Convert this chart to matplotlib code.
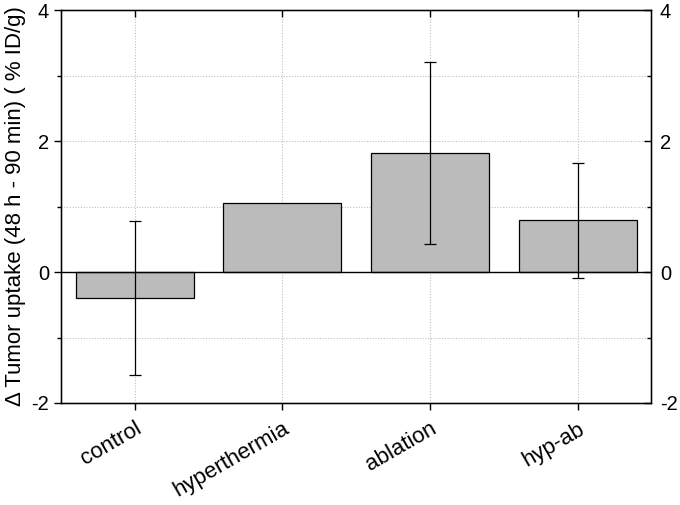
import matplotlib
matplotlib.use("Agg")
import matplotlib.pyplot as plt
import matplotlib.transforms as mtransforms
import numpy as np

categories = ["control", "hyperthermia", "ablation", "hyp-ab"]
values = [-0.40, 1.05, 1.82, 0.79]
errors = [1.18, 0.0, 1.39, 0.88]
y_major = [-2, 0, 2, 4]
y_minor = [-1, 1, 3]
ylabel = "\u0394 Tumor uptake (48 h - 90 min) ( % ID/g)"

plt.rcParams['font.family'] = ['Liberation Sans', 'DejaVu Sans']
plt.rcParams['axes.unicode_minus'] = False

fig = plt.figure(figsize=(6.8, 5.05), dpi=100)
ax = fig.add_axes([0.0897, 0.202, 0.958 - 0.0897, 0.980 - 0.202])

x = np.arange(len(categories))
ax.set_xlim(-0.5, len(categories) - 0.5)
ax.set_ylim(-2, 4)

ax.set_axisbelow(True)
grid_kw = dict(color='#c0c0c0', linestyle=(0, (1, 1.5)), linewidth=0.8, zorder=0)
for yv in y_major + y_minor:
    if yv not in (-2, 0, 4):
        ax.axhline(yv, **grid_kw)
for xv in x:
    ax.axvline(xv, **grid_kw)

ax.bar(x, values, width=0.8, color='#bbbbbb', edgecolor='black', linewidth=0.9, zorder=2)
ax.axhline(0, color='black', linewidth=1.0, zorder=3)
for xi, v, e in zip(x, values, errors):
    if e > 0:
        ax.errorbar(xi, v, yerr=e, fmt='none', ecolor='black', elinewidth=0.9,
                    capsize=4, capthick=0.9, zorder=4)

ax.set_xticks(x)
ax.set_xticklabels(categories, rotation=30, ha='right', rotation_mode='anchor', fontsize=16)
offset = mtransforms.ScaledTranslation(4 / 100, 0, fig.dpi_scale_trans)
for lab in ax.get_xticklabels():
    lab.set_transform(lab.get_transform() + offset)
ax.set_yticks(y_major)
ax.set_yticks(y_minor, minor=True)
ax.tick_params(axis='y', which='major', direction='out', length=5, width=1, labelsize=14.5)
ax.tick_params(axis='y', which='minor', direction='out', length=3, width=1)
ax.tick_params(axis='x', which='major', direction='out', length=5, width=1, pad=6)
ax.set_ylabel(ylabel, fontsize=16, labelpad=4)
for s in ax.spines.values():
    s.set_linewidth(1.0)

ax2 = ax.twinx()
ax2.set_ylim(-2, 4)
ax2.set_yticks(y_major)
ax2.set_yticks(y_minor, minor=True)
ax2.tick_params(axis='y', which='major', direction='in', length=5, width=1, labelsize=14.5, pad=6)
ax2.tick_params(axis='y', which='minor', direction='in', length=3, width=1)

ax3 = ax.twiny()
ax3.set_xlim(-0.5, len(categories) - 0.5)
ax3.set_xticks(x)
ax3.set_xticklabels([])
ax3.tick_params(axis='x', direction='in', length=5, width=1)

fig.savefig("out.png", dpi=100)
